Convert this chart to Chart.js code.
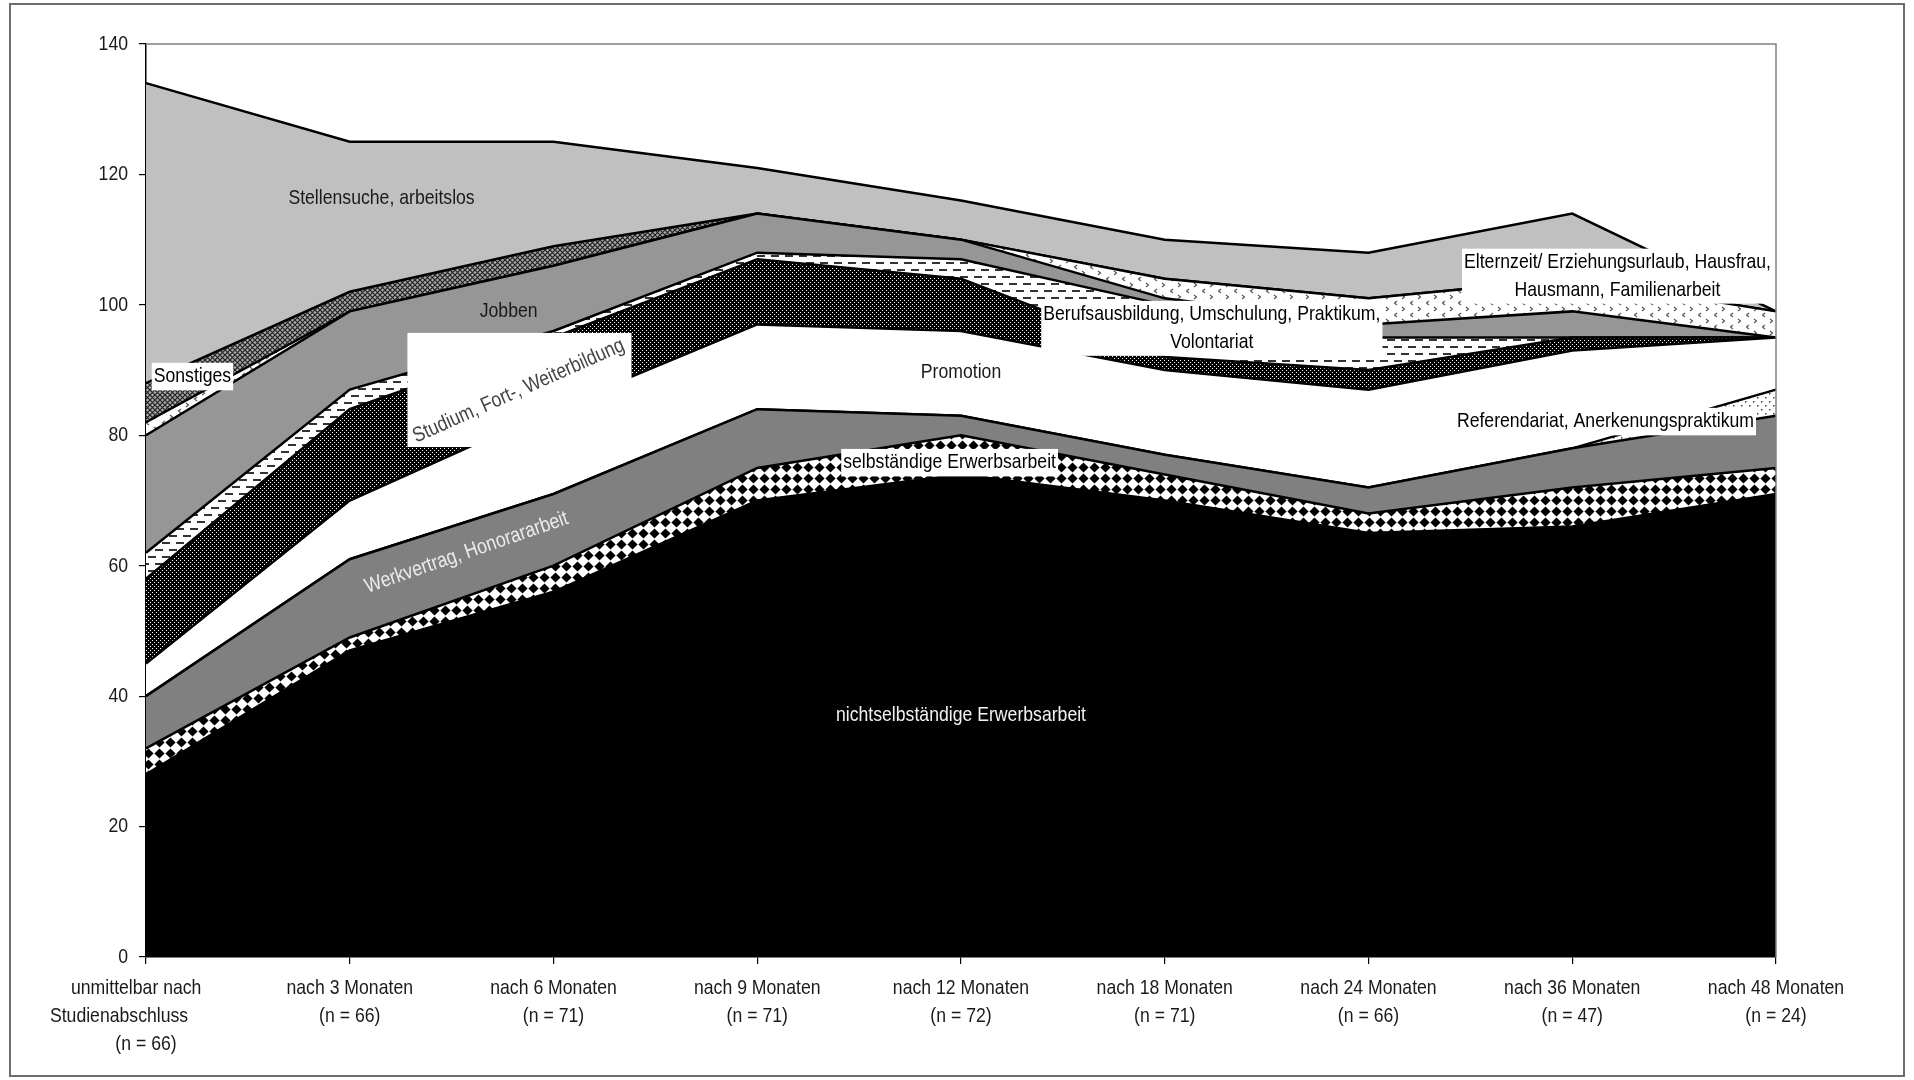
<!DOCTYPE html>
<html lang="de">
<head>
<meta charset="utf-8">
<title>Verbleib nach Studienabschluss</title>
<script src="https://cdn.jsdelivr.net/npm/chart.js@4.4.1/dist/chart.umd.min.js"></script>
<style>
  html, body { margin: 0; padding: 0; background: #fff; }
  #wrap { position: relative; width: 1914px; height: 1080px; }
  #frame { position: absolute; left: 9px; top: 3px; width: 1896px; height: 1074px; border: 2px solid #6e6e6e; box-sizing: border-box; pointer-events: none; }
  canvas { position: absolute; left: 0; top: 0; }
</style>
</head>
<body>
<div id="wrap">
  <canvas id="chart" width="1914" height="1080"></canvas>
  <div id="frame"></div>
</div>
<script>
// Zeitpunkte (x-Achse)
const categories = [
    ['unmittelbar nach    ', 'Studienabschluss           ', '(n = 66)'],
    ['nach 3 Monaten', '(n = 66)'],
    ['nach 6 Monaten', '(n = 71)'],
    ['nach 9 Monaten', '(n = 71)'],
    ['nach 12 Monaten', '(n = 72)'],
    ['nach 18 Monaten', '(n = 71)'],
    ['nach 24 Monaten', '(n = 66)'],
    ['nach 36 Monaten', '(n = 47)'],
    ['nach 48 Monaten', '(n = 24)']
];

// Werte je Tätigkeit, von unten nach oben gestapelt
const nichtselbstaendig = [28, 47, 56, 70, 74, 70, 65, 66, 71];
const selbstaendig      = [4, 2, 4, 5, 6, 4, 3, 6, 4];
const werkvertrag       = [8, 12, 11, 9, 3, 3, 4, 6, 8];
const referendariat     = [0, 0, 0, 0, 0, 0, 0, 0, 4];
const promotion         = [5, 9, 13, 13, 13, 13, 15, 15, 8];
const studium           = [13, 14, 11, 10, 8, 2, 3, 2, 0];
const berufsausbildung  = [4, 3, 1, 1, 3, 8, 5, 0, 0];
const jobben            = [18, 12, 10, 6, 3, 1, 2, 4, 0];
const elternzeit        = [2, 0, 0, 0, 0, 3, 4, 5, 4];
const sonstiges         = [6, 3, 3, 0, 0, 0, 0, 0, 0];
const stellensuche      = [46, 23, 16, 7, 6, 6, 7, 10, 0];

const yTicks = [0, 20, 40, 60, 80, 100, 120, 140];

// schmale Schrift: Liberation Sans, horizontal gestaucht
const FONT = "21px 'Liberation Sans', Arial, sans-serif";
const SQUEEZE = 0.84;

// --- Füllmuster ---
function makePattern(w, h, draw) {
    const c = document.createElement('canvas');
    c.width = w;
    c.height = h;
    const g = c.getContext('2d');
    draw(g, w, h);
    return g.createPattern(c, 'repeat');
}

// schwarze Rauten im Raster, Spitze an Spitze
const diamondPattern = makePattern(11, 11, g => {
    g.fillStyle = '#fff';
    g.fillRect(0, 0, 11, 11);
    g.fillStyle = '#000';
    g.beginPath();
    g.moveTo(5.5, 0.4);
    g.lineTo(10.6, 5.5);
    g.lineTo(5.5, 10.6);
    g.lineTo(0.4, 5.5);
    g.closePath();
    g.fill();
});

const sparseDotPattern = makePattern(8, 8, g => {
    g.fillStyle = '#fff';
    g.fillRect(0, 0, 8, 8);
    g.fillStyle = '#444';
    g.fillRect(1, 1, 1.5, 1.5);
    g.fillRect(5, 5, 1.5, 1.5);
});

const denseDotPattern = makePattern(4, 4, g => {
    g.fillStyle = '#000';
    g.fillRect(0, 0, 4, 4);
    g.fillStyle = '#fff';
    g.fillRect(0, 0, 1, 1);
    g.fillRect(2, 2, 1, 1);
});

const dashPattern = makePattern(14, 14, g => {
    g.fillStyle = '#fff';
    g.fillRect(0, 0, 14, 14);
    g.fillStyle = '#333';
    g.fillRect(1, 3, 8, 2);
    g.fillRect(8, 10, 8, 2);
    g.fillRect(-6, 10, 8, 2);
});

const chevronPattern = makePattern(16, 12, g => {
    g.fillStyle = '#fff';
    g.fillRect(0, 0, 16, 12);
    g.strokeStyle = '#555';
    g.lineWidth = 1.2;
    g.beginPath();
    g.moveTo(5, 1); g.lineTo(2.5, 3); g.lineTo(5, 5);
    g.moveTo(10, 7); g.lineTo(12.5, 9); g.lineTo(10, 11);
    g.stroke();
});

const hatchPattern = makePattern(5, 5, g => {
    g.fillStyle = '#a8a8a8';
    g.fillRect(0, 0, 5, 5);
    g.strokeStyle = '#222';
    g.lineWidth = 1.2;
    g.beginPath();
    g.moveTo(0, 0); g.lineTo(5, 5);
    g.moveTo(5, 0); g.lineTo(0, 5);
    g.stroke();
});

const series = [
    { label: 'nichtselbständige Erwerbsarbeit', data: nichtselbstaendig, fill: '#000' },
    { label: 'selbständige Erwerbsarbeit', data: selbstaendig, fill: diamondPattern },
    { label: 'Werkvertrag, Honorararbeit', data: werkvertrag, fill: '#808080' },
    { label: 'Referendariat, Anerkenungspraktikum', data: referendariat, fill: sparseDotPattern },
    { label: 'Promotion', data: promotion, fill: '#fff' },
    { label: 'Studium, Fort-, Weiterbildung', data: studium, fill: denseDotPattern },
    { label: 'Berufsausbildung, Umschulung, Praktikum, Volontariat', data: berufsausbildung, fill: dashPattern },
    { label: 'Jobben', data: jobben, fill: '#969696' },
    { label: 'Elternzeit/ Erziehungsurlaub, Hausfrau, Hausmann, Familienarbeit', data: elternzeit, fill: chevronPattern },
    { label: 'Sonstiges', data: sonstiges, fill: hatchPattern },
    { label: 'Stellensuche, arbeitslos', data: stellensuche, fill: '#c0c0c0' }
];

// Beschriftungen im Diagramm (Position in Achsenwerten: x = Kategorie-Index, y = Wert)
const annotations = [
    { lines: ['Stellensuche, arbeitslos'], x: 1.156, y: 116.3, color: '#1a1a1a' },
    { lines: ['Jobben'], x: 1.78, y: 99.1, color: '#1a1a1a' },
    { lines: ['Sonstiges'], x: 0.228, y: 89.0, color: '#000', box: true },
    { lines: ['Studium, Fort-, Weiterbildung'], x: 1.829, y: 86.8, color: '#444', angle: -23.9,
      rect: { x0: 1.283, x1: 2.383, y0: 95.7, y1: 78.2 } },
    { lines: ['Werkvertrag, Honorararbeit'], x: 1.573, y: 62.0, color: '#ececec', angle: -19 },
    { lines: ['Promotion'], x: 4.0, y: 89.7, color: '#1a1a1a' },
    { lines: ['Berufsausbildung, Umschulung, Praktikum,', 'Volontariat'], x: 5.231, y: 96.4, color: '#000', box: true },
    { lines: ['selbständige Erwerbsarbeit'], x: 3.944, y: 75.8, color: '#000', box: true },
    { lines: ['nichtselbständige Erwerbsarbeit'], x: 4.0, y: 37.1, color: '#f2f2f2' },
    { lines: ['Referendariat, Anerkenungspraktikum'], x: 7.163, y: 82.1, color: '#000', box: true },
    { lines: ['Elternzeit/ Erziehungsurlaub, Hausfrau,', 'Hausmann, Familienarbeit'], x: 7.222, y: 104.4, color: '#000', box: true }
];

const LINE_H = 27.5;

function squeezedText(ctx, text, x, y) {
    ctx.save();
    ctx.translate(x, y);
    ctx.scale(SQUEEZE, 1);
    ctx.fillText(text, 0, 0);
    ctx.restore();
}

const textPlugin = {
    id: 'areaLabels',
    afterDatasetsDraw(chart) {
        const { ctx, chartArea, scales } = chart;
        const xs = scales.x;
        const ys = scales.y;

        // Rahmen der Zeichenfläche (oben und rechts grau)
        ctx.save();
        ctx.strokeStyle = '#808080';
        ctx.lineWidth = 1.5;
        ctx.beginPath();
        ctx.moveTo(chartArea.left, chartArea.top);
        ctx.lineTo(chartArea.right, chartArea.top);
        ctx.lineTo(chartArea.right, chartArea.bottom);
        ctx.stroke();

        ctx.font = FONT;
        ctx.textBaseline = 'middle';

        // y-Achse
        ctx.textAlign = 'right';
        ctx.fillStyle = '#1a1a1a';
        yTicks.forEach(v => squeezedText(ctx, String(v), chartArea.left - 18, ys.getPixelForValue(v)));

        // x-Achse
        ctx.textAlign = 'center';
        chart.data.labels.forEach((lines, i) => {
            const px = xs.getPixelForValue(i);
            lines.forEach((l, j) => squeezedText(ctx, l, px, chartArea.bottom + 31 + j * 28));
        });

        // Flächenbeschriftungen
        annotations.forEach(a => {
            const cx = xs.getPixelForValue(a.x);
            const cy = ys.getPixelForValue(a.y);
            if (a.rect) {
                const x0 = xs.getPixelForValue(a.rect.x0);
                const x1 = xs.getPixelForValue(a.rect.x1);
                const y0 = ys.getPixelForValue(a.rect.y0);
                const y1 = ys.getPixelForValue(a.rect.y1);
                ctx.fillStyle = '#fff';
                ctx.fillRect(x0, y0, x1 - x0, y1 - y0);
            }
            if (a.box) {
                const w = Math.max(...a.lines.map(l => ctx.measureText(l).width)) * SQUEEZE + 4;
                const h = a.lines.length * LINE_H;
                ctx.fillStyle = '#fff';
                ctx.fillRect(cx - w / 2, cy - h / 2, w, h);
            }
            ctx.save();
            ctx.translate(cx, cy);
            if (a.angle) ctx.rotate(a.angle * Math.PI / 180);
            ctx.fillStyle = a.color;
            a.lines.forEach((l, i) => {
                const dy = (i - (a.lines.length - 1) / 2) * LINE_H;
                squeezedText(ctx, l, 0, dy);
            });
            ctx.restore();
        });
        ctx.restore();
    }
};

new Chart(document.getElementById('chart'), {
    type: 'line',
    data: {
        labels: categories,
        datasets: series.map((s, i) => ({
            label: s.label,
            data: s.data,
            fill: i === 0 ? 'origin' : '-1',
            backgroundColor: s.fill,
            borderColor: '#000',
            borderWidth: 2.5,
            pointRadius: 0,
            tension: 0
        }))
    },
    options: {
        responsive: false,
        animation: false,
        layout: {
            padding: { top: 44, right: 138, left: 0, bottom: 0 }
        },
        plugins: {
            legend: { display: false },
            tooltip: { enabled: false }
        },
        scales: {
            x: {
                offset: false,
                grid: { display: true, drawOnChartArea: false, tickLength: 7, color: '#000', lineWidth: 1.2 },
                border: { color: '#000', width: 1.5 },
                ticks: { display: false },
                afterFit: scale => { scale.height = 123; }
            },
            y: {
                stacked: true,
                min: 0,
                max: 140,
                afterBuildTicks: scale => { scale.ticks = yTicks.map(v => ({ value: v })); },
                grid: { display: true, drawOnChartArea: false, tickLength: 7, color: '#000', lineWidth: 1.2 },
                border: { color: '#000', width: 1.5 },
                ticks: { display: false },
                afterFit: scale => { scale.width = 146; }
            }
        }
    },
    plugins: [textPlugin]
});
</script>
</body>
</html>
